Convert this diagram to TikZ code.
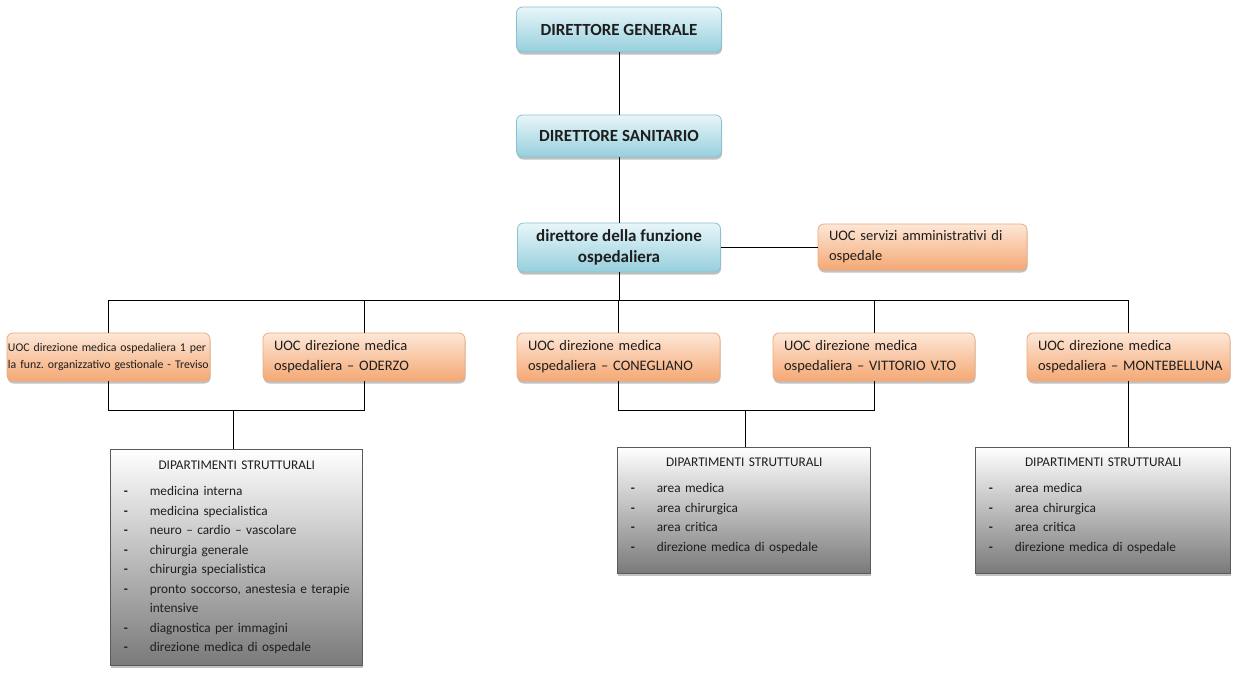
\documentclass[tikz,border=0pt]{standalone}
\usepackage{fontspec}
\setmainfont{Carlito}
\usetikzlibrary{shadows}
\frenchspacing
\definecolor{bluetop}{RGB}{232,246,249}
\definecolor{bluebot}{RGB}{150,207,221}
\definecolor{blueedge}{RGB}{140,192,206}
\definecolor{orangetop}{RGB}{253,231,215}
\definecolor{orangebot}{RGB}{244,168,116}
\definecolor{orangeedge}{RGB}{238,170,125}
\definecolor{graybot}{RGB}{122,122,122}
\definecolor{grayedge}{RGB}{90,90,90}
\definecolor{textc}{RGB}{30,30,30}
\newcommand\deptitem[1]{\makebox[26pt][l]{\textbf{-}}#1}
\tikzset{
  x=1pt, y=-1pt,
  shadowstyle/.style={drop shadow={shadow xshift=0.6pt, shadow yshift=-2.5pt, opacity=0.35, fill=black!70}},
  bluebox/.style={rounded corners=6pt, draw=blueedge, line width=0.8pt, top color=bluetop, bottom color=bluebot,
    shadowstyle, font=\fontsize{17}{20.5}\selectfont\bfseries, align=center, text=textc, inner sep=2pt},
  orangebox/.style={rounded corners=6pt, draw=orangeedge, line width=0.8pt, top color=orangetop, bottom color=orangebot,
    shadowstyle, font=\fontsize{14.5}{20}\selectfont, align=left, text=textc, inner xsep=11pt, inner ysep=2pt},
  deptbox/.style={draw=grayedge, line width=0.8pt, top color=white, bottom color=graybot, shadowstyle},
  depttext/.style={font=\fontsize{13.3}{19.5}\selectfont, text=textc, align=left, inner sep=0pt, anchor=north west},
  link/.style={draw=black, line width=0.9pt},
}
\begin{document}
\begin{tikzpicture}
\useasboundingbox (0,0) rectangle (1233,672);

% top chain
\node[bluebox, minimum width=205pt, minimum height=45pt] (dg) at (619,29.5) {DIRETTORE GENERALE};
\node[bluebox, minimum width=205pt, minimum height=42pt] (ds) at (619,136) {DIRETTORE SANITARIO};
\node[bluebox, minimum width=203pt, minimum height=49pt] (df) at (619,247.5) {direttore della funzione\\ospedaliera};
\node[orangebox, minimum width=209pt, minimum height=46pt, text width=187pt] (us) at (922.5,247)
  {\mbox{UOC servizi amministrativi di}\\ospedale};

% row of UOC
\node[orangebox, minimum width=203pt, minimum height=48pt, text width=201pt, inner xsep=1pt,
      font=\fontsize{11.8}{17}\selectfont] (o1) at (108.5,357)
  {\mbox{UOC direzione medica ospedaliera 1 per}\\\mbox{la funz. organizzativo gestionale - Treviso}};
\node[orangebox, minimum width=202pt, minimum height=48pt, text width=180pt] (o2) at (364,357)
  {\mbox{UOC direzione medica}\\\mbox{ospedaliera – ODERZO}};
\node[orangebox, minimum width=203pt, minimum height=48pt, text width=181pt] (o3) at (618.5,357)
  {\mbox{UOC direzione medica}\\\mbox{ospedaliera – CONEGLIANO}};
\node[orangebox, minimum width=202pt, minimum height=48pt, text width=180pt] (o4) at (874,357)
  {\mbox{UOC direzione medica}\\\mbox{ospedaliera – VITTORIO V.TO}};
\node[orangebox, minimum width=203pt, minimum height=48pt, text width=181pt] (o5) at (1128.5,357)
  {\mbox{UOC direzione medica}\\\mbox{ospedaliera – MONTEBELLUNA}};

% department boxes
\node[deptbox, minimum width=252pt, minimum height=216pt] (d1) at (236,557) {};
\node[deptbox, minimum width=253pt, minimum height=126pt] (d2) at (743.5,510) {};
\node[deptbox, minimum width=255pt, minimum height=126pt] (d3) at (1102.5,510) {};

\node[depttext, text width=226pt] (t1) at ([xshift=14pt,yshift=-12.5pt]d1.north west)
 {\centering DIPARTIMENTI STRUTTURALI\par\vspace{6.5pt}\raggedright
  \deptitem{medicina interna}\\
  \deptitem{medicina specialistica}\\
  \deptitem{neuro – cardio – vascolare}\\
  \deptitem{chirurgia generale}\\
  \deptitem{chirurgia specialistica}\\
  \deptitem{\mbox{pronto soccorso, anestesia e terapie}}\\
  \hspace*{26pt}intensive\\
  \deptitem{diagnostica per immagini}\\
  \deptitem{direzione medica di ospedale}};
\node[depttext, text width=227pt] (t2) at ([xshift=14pt,yshift=-11.5pt]d2.north west)
 {\centering DIPARTIMENTI STRUTTURALI\par\vspace{6.5pt}\raggedright
  \deptitem{area medica}\\
  \deptitem{area chirurgica}\\
  \deptitem{area critica}\\
  \deptitem{direzione medica di ospedale}};
\node[depttext, text width=229pt] (t3) at ([xshift=14pt,yshift=-11.5pt]d3.north west)
 {\centering DIPARTIMENTI STRUTTURALI\par\vspace{6.5pt}\raggedright
  \deptitem{area medica}\\
  \deptitem{area chirurgica}\\
  \deptitem{area critica}\\
  \deptitem{direzione medica di ospedale}};

% connectors
\coordinate (bus) at (619,300);
\coordinate (m1) at (233,410);
\coordinate (m2) at (745,410);
\path[link] (dg.south) -- (ds.north);
\path[link] (ds.south) -- (df.north);
\path[link] (df.east) -- (df.east -| us.west);
\path[link] (df.south) -- (df.south |- bus);
\path[link] (o1.north) -- (o1.north |- bus) -- (o5.north |- bus) -- (o5.north);
\path[link] (o2.north) -- (o2.north |- bus);
\path[link] (o3.north) -- (o3.north |- bus);
\path[link] (o4.north) -- (o4.north |- bus);
\path[link] (o1.south) -- (o1.south |- m1) -- (o2.south |- m1) -- (o2.south);
\path[link] (m1) -- (m1 |- d1.north);
\path[link] (o3.south) -- (o3.south |- m2) -- (o4.south |- m2) -- (o4.south);
\path[link] (m2) -- (m2 |- d2.north);
\path[link] (o5.south) -- (o5.south |- d3.north);
\end{tikzpicture}
\end{document}
